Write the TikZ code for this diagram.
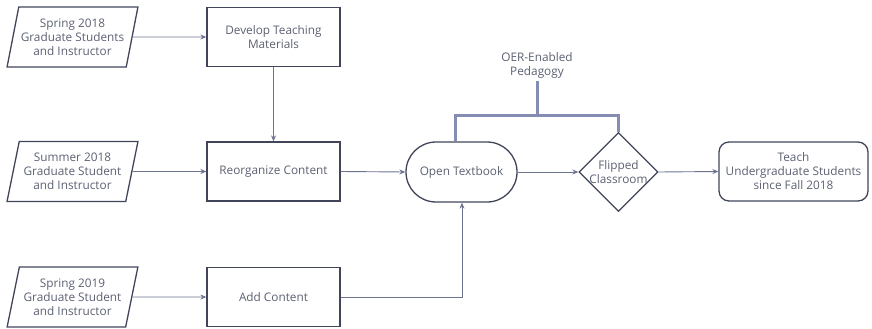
\documentclass[tikz,border=0pt]{standalone}
\usepackage{fontspec}
\setmainfont{Open Sans}
\usetikzlibrary{shapes.geometric,arrows.meta}
\definecolor{edge}{HTML}{41455A}
\definecolor{wire}{HTML}{6E7390}
\definecolor{brace}{HTML}{858DB3}
\definecolor{ink}{HTML}{5C6072}
\tikzset{
  txt/.style={text=ink, font=\fontsize{11.8}{14}\selectfont, align=center},
  inbox/.style={txt, trapezium, trapezium left angle=73, trapezium right angle=107,
    trapezium stretches=true, draw=edge, line width=1.3pt, minimum width=131pt,
    minimum height=60pt, inner sep=0pt},
  procbox/.style={txt, rectangle, draw=edge, line width=1.3pt, minimum width=133pt,
    minimum height=59pt, inner sep=0pt},
  termbox/.style={txt, rectangle, rounded corners=30pt, draw=edge, line width=1.3pt,
    minimum width=111pt, minimum height=60pt, inner sep=0pt},
  endbox/.style={txt, rectangle, rounded corners=10pt, draw=edge, line width=1.3pt,
    minimum width=149pt, minimum height=59pt, inner sep=0pt},
  choice/.style={diamond, draw=edge, line width=1.3pt, minimum width=79pt,
    minimum height=79pt, inner sep=0pt},
  link/.style={draw=wire, line width=0.9pt, -{Stealth[length=6pt,width=5pt]}},
  bracket/.style={draw=brace, line width=3pt}
}
\begin{document}
\begin{tikzpicture}[x=1pt,y=-1pt]
\useasboundingbox (0,0) rectangle (872,329);

% inputs
\node[inbox] (in1) at (72.5,37) {Spring 2018\\Graduate Students\\and Instructor};
\node[inbox] (in2) at (72.5,171.5) {Summer 2018\\Graduate Student\\and Instructor};
\node[inbox] (in3) at (72.5,297) {Spring 2019\\Graduate Student\\and Instructor};

% process steps
\node[procbox] (dev) at (273.5,37) {Develop Teaching\\Materials};
\node[procbox] (reorg) at (273.5,171.5) {Reorganize Content};
\node[procbox] (add) at (273.5,297) {Add Content};

% outcome chain
\node[termbox] (book) at (461.5,172) {Open Textbook};
\node[choice] (flip) at (618.5,172) {};
\node[txt] (fliplbl) at (flip) {Flipped\\Classroom};
\node[endbox] (teach) at (793.5,171.5) {Teach\\Undergraduate Students\\since Fall 2018};

% pedagogy label
\node[txt] (oer) at (537,65) {OER-Enabled\\Pedagogy};
\coordinate (turn) at (462,297);
\coordinate (bl) at (455,115);
\coordinate (br) at (flip.north |- bl);
\coordinate (mid) at (537,115);

% connectors
\draw[link] (in1.east) -- (dev.west);
\draw[link] (in2.east) -- (reorg.west);
\draw[link] (in3.east) -- (add.west);
\draw[link] (dev.south) -- (reorg.north);
\draw[link] (reorg.east) -- (book.west);
\draw[link] (add.east) -- (turn) -- (turn |- book.south);
\draw[link] (book.east) -- (flip.west);
\draw[link] (flip.east) -- (teach.west);

% bracket joining the two pedagogy elements
\draw[bracket] (bl |- book.north) -- (bl) -- (br) -- (flip.north);
\draw[bracket] (mid) -- (mid |- oer.south);
\end{tikzpicture}
\end{document}
